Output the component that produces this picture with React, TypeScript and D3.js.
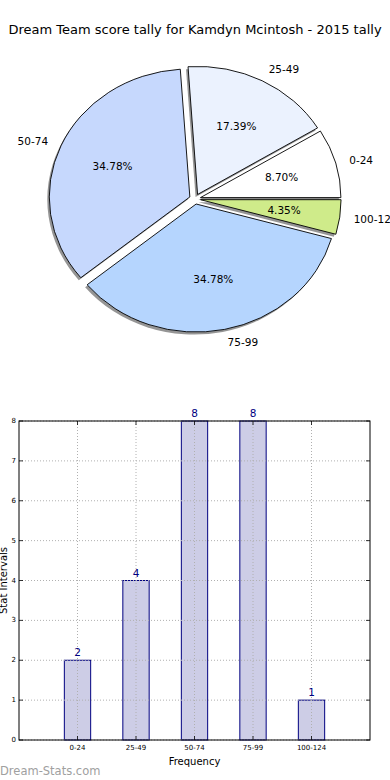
import React from 'react';
import * as d3 from 'd3';

const title = 'Dream Team score tally for Kamdyn Mcintosh - 2015 tally';
const intervals = ['0-24', '25-49', '50-74', '75-99', '100-124'];
const counts = [2, 4, 8, 8, 1];
const sliceColors = ['#ffffff', '#ebf2fe', '#c6d8fd', '#b5d5fe', '#cfeb8a'];
const yTicks = [0, 1, 2, 3, 4, 5, 6, 7, 8];

const W = 390;
const H = 780;

// pie geometry (matplotlib pie is an ellipse here)
const cx = 195;
const cy = 199;
const rx = 140.5;
const ry = 128;
const explode = 0.04;

// bar axes box
const box = { left: 19, right: 370, top: 421, bottom: 740 };

const Pie = () => {
  const total = d3.sum(counts);
  const pie = d3
    .pie<number>()
    .sort(null)
    .startAngle(Math.PI / 2)
    .endAngle(Math.PI / 2 - 2 * Math.PI);
  const arcs = pie(counts);
  const arc = d3.arc<d3.PieArcDatum<number>>().innerRadius(0).outerRadius(1);

  const font = 'DejaVu Sans, sans-serif';
  return (
    <g>
      {arcs.map((a, i) => {
        const mid = (a.startAngle + a.endAngle) / 2;
        const ox = cx + explode * rx * Math.sin(mid);
        const oy = cy - explode * ry * Math.cos(mid);
        return (
          <path
            key={'s' + i}
            d={arc(a) || ''}
            transform={`translate(${ox - 2},${oy + 2.5}) scale(${rx},${ry})`}
            fill="#8a8a8a"
            opacity={0.9}
          />
        );
      })}
      {arcs.map((a, i) => {
        const mid = (a.startAngle + a.endAngle) / 2;
        const ux = Math.sin(mid);
        const uy = -Math.cos(mid);
        const ox = cx + explode * rx * ux;
        const oy = cy + explode * ry * uy;
        const lx = ox + 1.1 * rx * ux;
        const ly = oy + 1.1 * ry * uy;
        const px = ox + 0.6 * rx * ux;
        const py = oy + 0.6 * ry * uy;
        return (
          <g key={'p' + i}>
            <path
              d={arc(a) || ''}
              transform={`translate(${ox},${oy}) scale(${rx},${ry})`}
              fill={sliceColors[i]}
              stroke="#000"
              strokeWidth={0.9}
              vectorEffect="non-scaling-stroke"
            />
            <text
              x={lx}
              y={ly}
              textAnchor={ux > 0 ? 'start' : 'end'}
              dominantBaseline="central"
              fontFamily={font}
              fontSize={10.5}
              fill="#000"
            >
              {intervals[i]}
            </text>
            <text
              x={px}
              y={py}
              textAnchor="middle"
              dominantBaseline="central"
              fontFamily={font}
              fontSize={10.5}
              fill="#000"
            >
              {((counts[i] / total) * 100).toFixed(2) + '%'}
            </text>
          </g>
        );
      })}
    </g>
  );
};

const Bars = () => {
  const x = d3.scaleLinear().domain([-1, 5]).range([box.left, box.right]);
  const y = d3.scaleLinear().domain([0, 8]).range([box.bottom, box.top]);
  const bw = x(0.45) - x(0);
  const font = 'DejaVu Sans, sans-serif';
  return (
    <g>
      {counts.map((c, i) => (
        <rect
          key={'b' + i}
          x={x(i) - bw / 2}
          y={y(c)}
          width={bw}
          height={y(0) - y(c)}
          fill="#cdcde6"
          stroke="#000080"
          strokeWidth={1}
        />
      ))}
      {/* grid */}
      {yTicks.map((t) => (
        <line
          key={'gy' + t}
          x1={box.left}
          x2={box.right}
          y1={y(t)}
          y2={y(t)}
          stroke="#b0b0b0"
          strokeWidth={1}
          strokeDasharray="1,2"
        />
      ))}
      {intervals.map((_, i) => (
        <line
          key={'gx' + i}
          x1={x(i)}
          x2={x(i)}
          y1={box.top}
          y2={box.bottom}
          stroke="#b0b0b0"
          strokeWidth={1}
          strokeDasharray="1,2"
        />
      ))}
      {/* ticks */}
      {yTicks.map((t) => (
        <g key={'ty' + t}>
          <line x1={box.left} x2={box.left + 4} y1={y(t)} y2={y(t)} stroke="#000" strokeWidth={0.8} />
          <line x1={box.right - 4} x2={box.right} y1={y(t)} y2={y(t)} stroke="#000" strokeWidth={0.8} />
          <text
            x={box.left - 3}
            y={y(t)}
            textAnchor="end"
            dominantBaseline="central"
            fontFamily={font}
            fontSize={7}
            fill="#000"
          >
            {t}
          </text>
        </g>
      ))}
      {intervals.map((lab, i) => (
        <g key={'tx' + i}>
          <line x1={x(i)} x2={x(i)} y1={box.bottom} y2={box.bottom - 4} stroke="#000" strokeWidth={0.8} />
          <line x1={x(i)} x2={x(i)} y1={box.top} y2={box.top + 4} stroke="#000" strokeWidth={0.8} />
          <text
            x={x(i)}
            y={box.bottom + 10}
            textAnchor="middle"
            fontFamily={font}
            fontSize={7}
            fill="#000"
          >
            {lab}
          </text>
        </g>
      ))}
      {counts.map((c, i) => (
        <text
          key={'v' + i}
          x={x(i)}
          y={y(c) - 4}
          textAnchor="middle"
          fontFamily={font}
          fontSize={10.5}
          fill="#000080"
        >
          {c}
        </text>
      ))}
      <rect
        x={box.left}
        y={box.top}
        width={box.right - box.left}
        height={box.bottom - box.top}
        fill="none"
        stroke="#000"
        strokeWidth={1}
      />
      <text
        x={(box.left + box.right) / 2}
        y={765}
        textAnchor="middle"
        fontFamily={font}
        fontSize={10}
        fill="#000"
      >
        Frequency
      </text>
      <text
        transform={`translate(7,${(box.top + box.bottom) / 2}) rotate(-90)`}
        textAnchor="middle"
        fontFamily={font}
        fontSize={10}
        fill="#000"
      >
        Stat Intervals
      </text>
    </g>
  );
};

export default function App() {
  return (
    <svg
      width={W}
      height={H}
      viewBox={`0 0 ${W} ${H}`}
      style={{ position: 'absolute', left: 0, top: 0, background: '#fff' }}
    >
      <rect width={W} height={H} fill="#fff" />
      <text
        x={195}
        y={34}
        textAnchor="middle"
        fontFamily="DejaVu Sans, sans-serif"
        fontSize={13}
        fill="#000"
      >
        {title}
      </text>
      <Pie />
      <Bars />
      <text
        x={0}
        y={775}
        fontFamily="DejaVu Sans, sans-serif"
        fontSize={11.5}
        fill="#a0a0a0"
      >
        Dream-Stats.com
      </text>
    </svg>
  );
}
